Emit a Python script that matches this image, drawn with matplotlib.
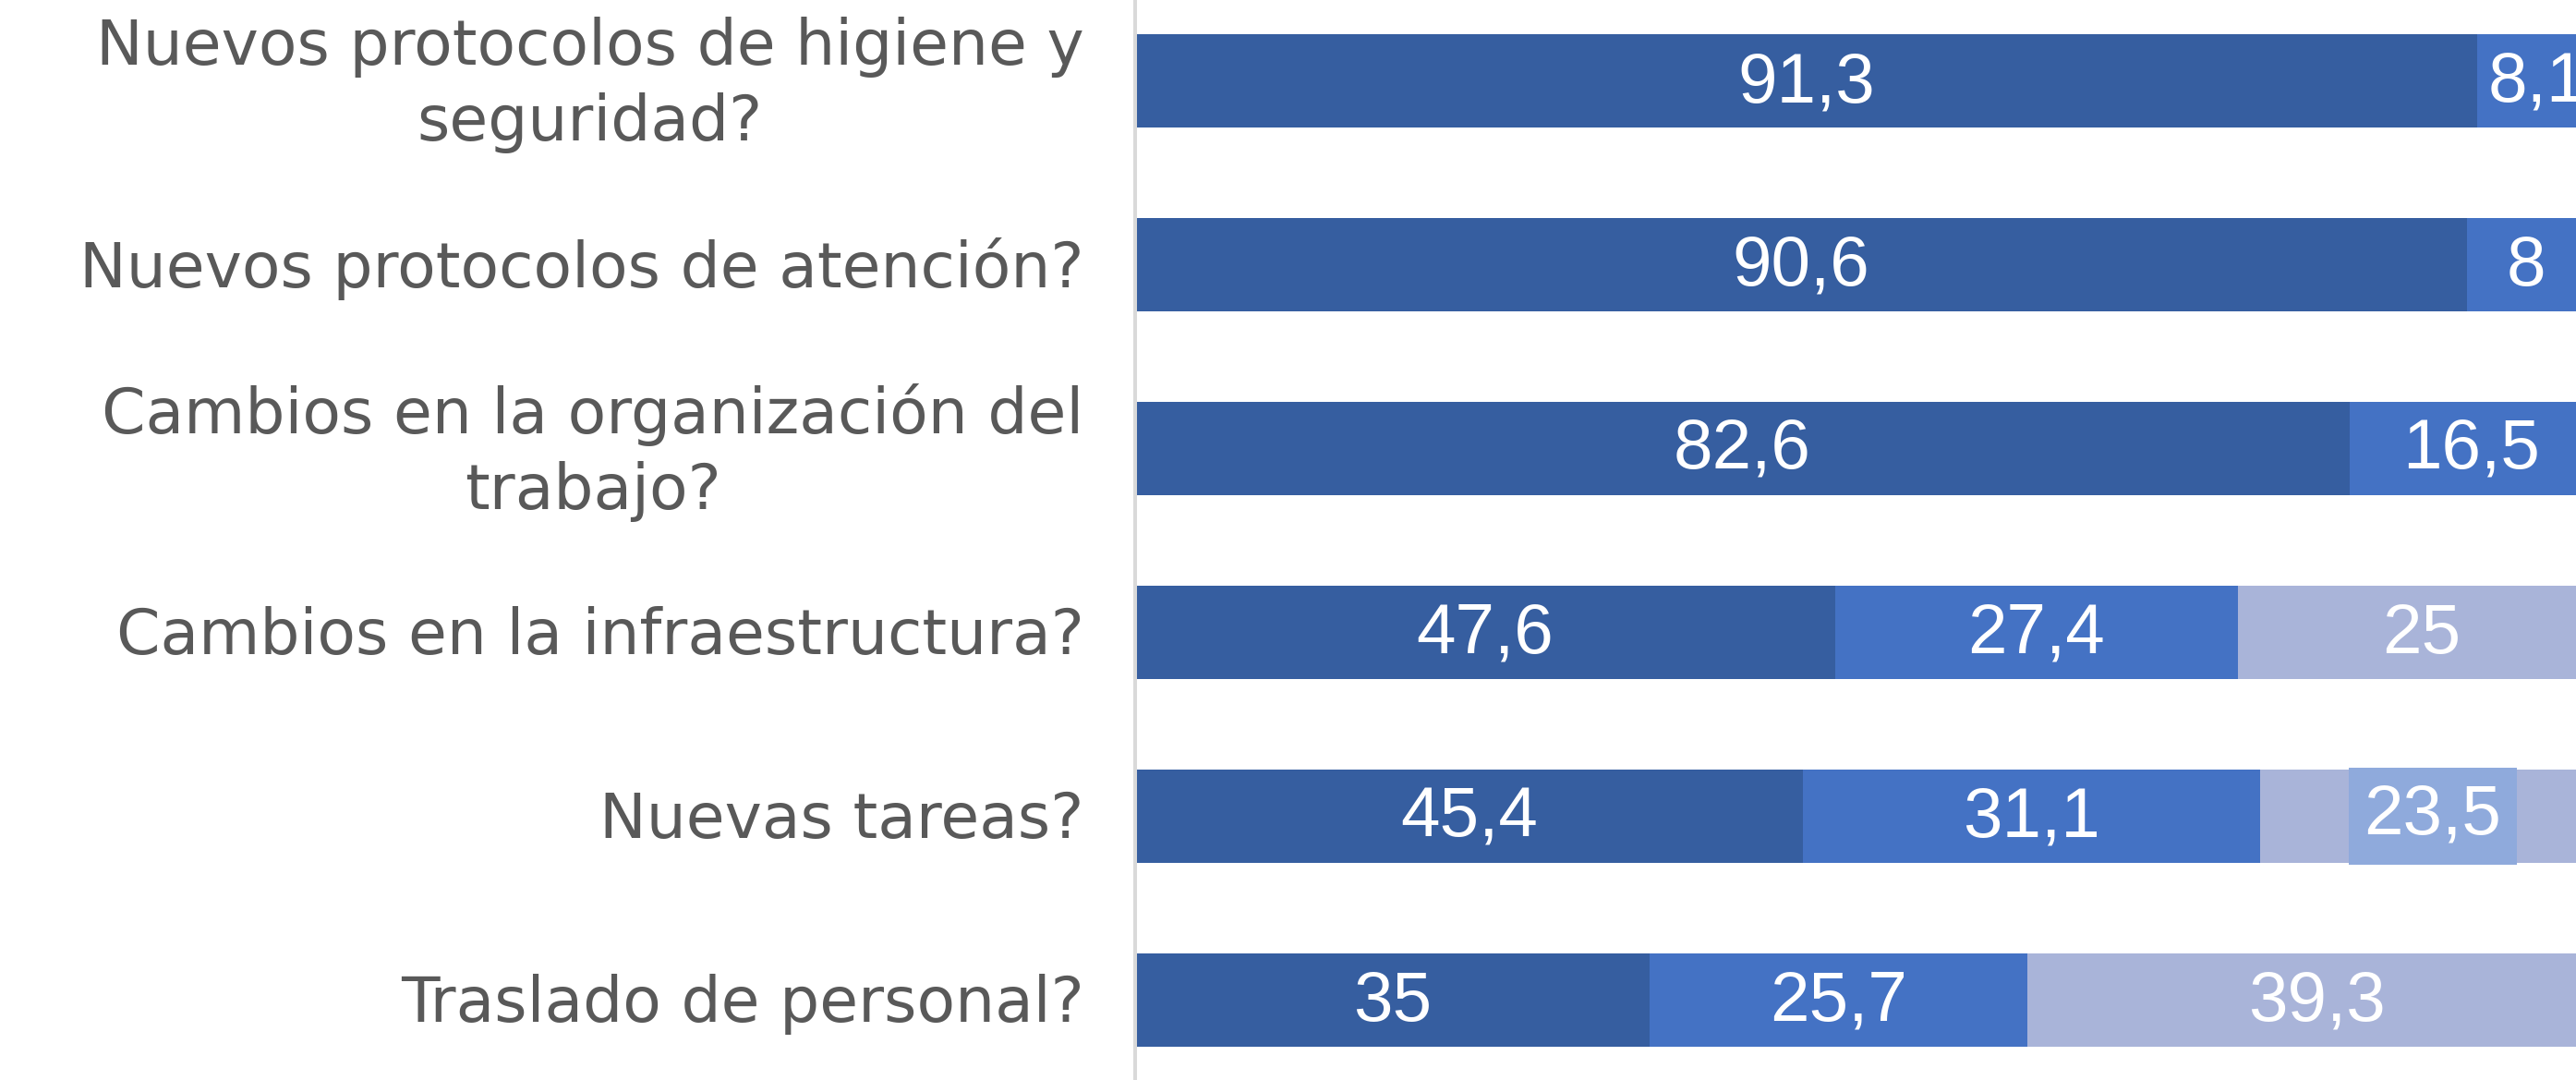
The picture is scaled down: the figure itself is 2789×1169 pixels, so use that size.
import matplotlib.pyplot as plt
import matplotlib.transforms as mtransforms

# data
categorias = ['Nuevos protocolos de higiene y\nseguridad?',
              'Nuevos protocolos de atención?',
              'Cambios en la organización del\ntrabajo?',
              'Cambios en la infraestructura?',
              'Nuevas tareas?',
              'Traslado de personal?']
serie1 = [91.3, 90.6, 82.6, 47.6, 45.4, 35]
serie2 = [8.1, 8, 16.5, 27.4, 31.1, 25.7]
serie3 = [0.6, 1.4, 0.9, 25, 23.5, 39.3]

colores = ['#365EA0', '#4472C4', '#A9B4D9']

plt.rcParams['font.family'] = ['Liberation Sans', 'DejaVu Sans']

fig = plt.figure(figsize=(27.89, 11.69), dpi=100)
ax = fig.add_axes([1229 / 2789, 0, 1 - 1229 / 2789, 1])

y = list(range(len(categorias)))
izq = [0] * len(y)
for i, serie in enumerate([serie1, serie2, serie3]):
    ax.barh(y, serie, left=izq, height=0.51, color=colores[i])
    for j, v in enumerate(serie):
        if v < 3:
            continue
        txt = f'{v:g}'.replace('.', ',')
        kw = {}
        dy = 0.015
        if i == 2 and j == 4:
            # etiqueta seleccionada con fondo
            kw['bbox'] = dict(boxstyle='square,pad=0.22', fc='#8FAADC', ec='none')
            dy = 0.0
        ax.text(izq[j] + v / 2, j + dy, txt, ha='center', va='center',
                color='white', fontsize=55, **kw)
    izq = [a + b for a, b in zip(izq, serie)]

ax.set_xlim(0, 98)
ax.set_ylim(5.435, -0.44)
ax.set_yticks(y)
ax.set_yticklabels(categorias, fontsize=49, color='#595959', ma='center',
                   family='DejaVu Sans', linespacing=1.3, va='center')
ax.tick_params(axis='y', length=0, pad=40)
desplazar = mtransforms.ScaledTranslation(0, -3.2 / 72, fig.dpi_scale_trans)
for lab in ax.get_yticklabels():
    lab.set_transform(lab.get_transform() + desplazar)
ax.set_xticks([])
for s in ['top', 'right', 'bottom']:
    ax.spines[s].set_visible(False)
ax.spines['left'].set_color('#D9D9D9')
ax.spines['left'].set_linewidth(2.9)

plt.savefig('out.png', dpi=100)
